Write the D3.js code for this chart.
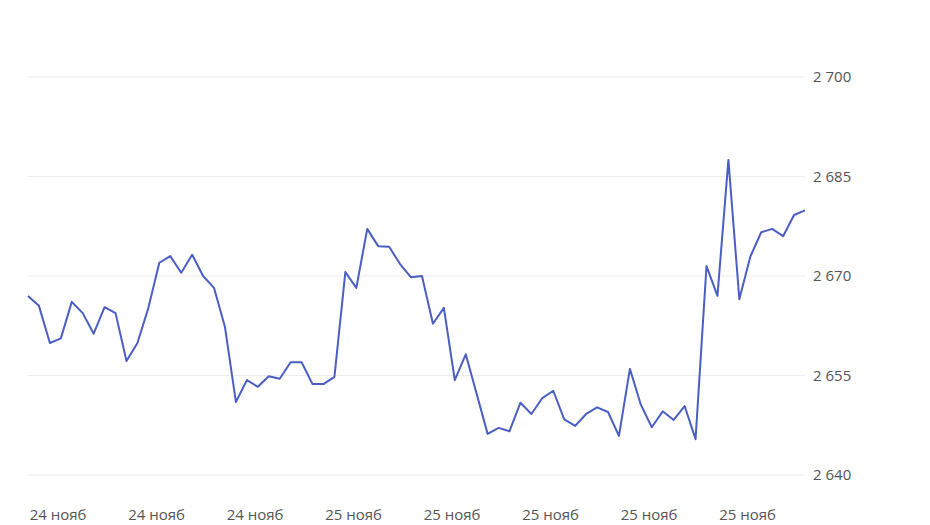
<!DOCTYPE html>
<html><head><meta charset="utf-8">
<script src="https://cdn.jsdelivr.net/npm/d3@7"></script>
<style>body{margin:0;background:#fff}svg{display:block}text{font-family:"Open Sans",sans-serif}</style>
</head><body><svg id="c" width="930" height="525"></svg>
<script>
const values=[2667.0,2665.5,2659.9,2660.6,2666.1,2664.4,2661.3,2665.3,2664.4,2657.2,2659.9,2665.2,2672.0,2673.0,2670.5,2673.2,2670.0,2668.2,2662.3,2651.0,2654.3,2653.3,2654.9,2654.5,2657.0,2657.0,2653.7,2653.7,2654.8,2670.6,2668.2,2677.1,2674.5,2674.4,2671.8,2669.8,2670.0,2662.8,2665.2,2654.3,2658.2,2652.2,2646.2,2647.1,2646.6,2650.9,2649.2,2651.6,2652.7,2648.4,2647.4,2649.2,2650.2,2649.5,2645.9,2656.0,2650.6,2647.2,2649.6,2648.3,2650.4,2645.4,2671.5,2667.0,2687.5,2666.5,2672.9,2676.6,2677.1,2676.0,2679.2,2679.9];
const yTicks=[2640,2655,2670,2685,2700];
const xLabels=["24 нояб","24 нояб","24 нояб","25 нояб","25 нояб","25 нояб","25 нояб","25 нояб"];
const xLabelPos=[2.75,11.75,20.75,29.75,38.75,47.75,56.75,65.75];
const svg=d3.select("#c");
const x=d3.scaleLinear().domain([0,values.length-1]).range([28,805]);
const y=d3.scaleLinear().domain([2640,2700]).range([475,77]);
const fmt=v=>String(v).replace(/(\d)(\d{3})$/,"$1 $2");
svg.append("g").selectAll("line").data(yTicks).join("line")
 .attr("x1",28).attr("x2",805).attr("y1",d=>y(d)).attr("y2",d=>y(d))
 .attr("stroke","#ececec").attr("stroke-width",1);
svg.append("g").selectAll("text").data(yTicks).join("text")
 .attr("x",813).attr("y",d=>y(d)+5).attr("font-size",15).attr("fill","#555").text(fmt);
svg.append("g").selectAll("text").data(xLabels).join("text")
 .attr("x",(d,i)=>x(xLabelPos[i])).attr("y",520).attr("text-anchor","middle")
 .attr("font-size",15).attr("fill","#555").text(d=>d);
svg.append("path").datum(values).attr("fill","none").attr("stroke","#4a5ec4")
 .attr("stroke-width",2).attr("stroke-linejoin","round")
 .attr("d",d3.line().x((d,i)=>x(i)).y(d=>y(d)));
</script></body></html>
